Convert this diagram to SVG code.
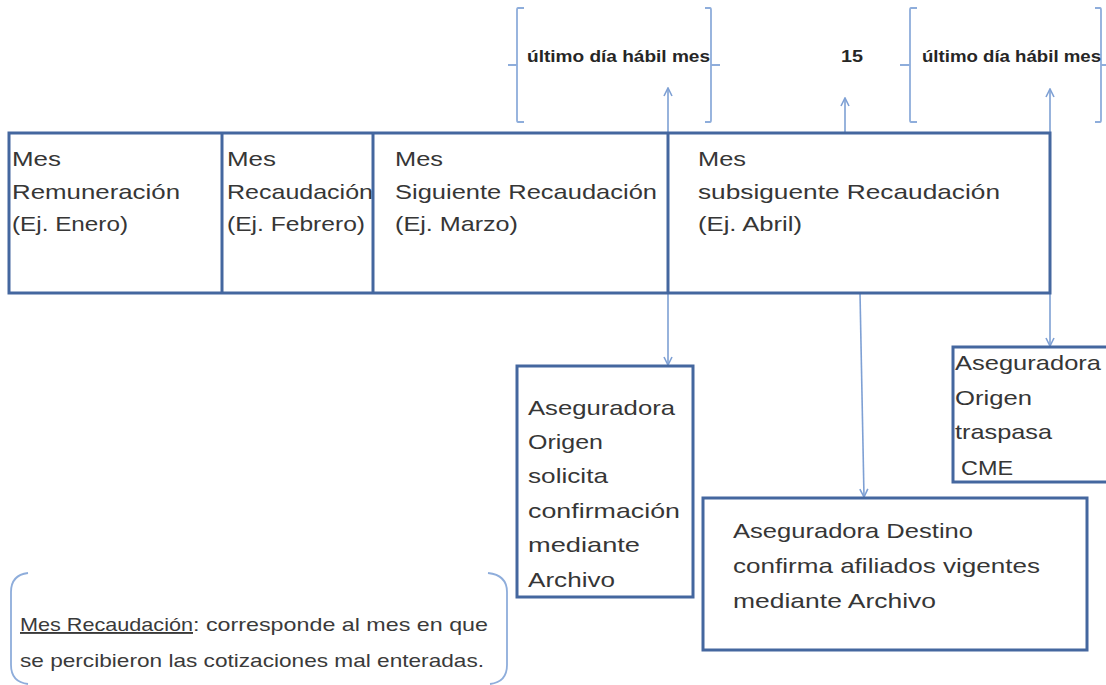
<svg xmlns="http://www.w3.org/2000/svg" width="1106" height="685" viewBox="0 0 1106 685">
<defs>
<style>
.box{fill:none;stroke:#44679f;stroke-width:3}
.conn{fill:none;stroke:#7ea0d4;stroke-width:1.6}
.br{fill:none;stroke:#8eaddb;stroke-width:1.8}
.t{font-family:"Liberation Sans",Arial,sans-serif;font-size:21px;fill:#363636}
.s{font-family:"Liberation Sans",Arial,sans-serif;font-size:19px;fill:#3a3a3a}
.b{font-family:"Liberation Sans",Arial,sans-serif;font-size:17px;font-weight:bold;fill:#262626}
</style>
<marker id="ah" viewBox="0 0 10 10" refX="9" refY="5" markerWidth="10" markerHeight="10" markerUnits="userSpaceOnUse" orient="auto">
<path d="M1,1 L9,5 L1,9" fill="none" stroke="#7ea0d4" stroke-width="1.6"/>
</marker>
</defs>
<rect width="1106" height="685" fill="#ffffff"/>

<g id="top-labels">
<g id="bracket1">
<path class="br" d="M524,8 L518,8 Q517,8 517,10 L517,120 Q517,122 518,122 L524,122 M508,65 L517,65"/>
<path class="br" d="M705,8 L710,8 Q711,8 711,10 L711,120 Q711,122 710,122 L705,122 M711,65 L720,65"/>
<text class="b" x="527" y="62" textLength="183" lengthAdjust="spacingAndGlyphs">último día hábil mes</text>
</g>
<g id="label15">
<text class="b" x="841" y="62" textLength="22" lengthAdjust="spacingAndGlyphs">15</text>
</g>
<g id="bracket2">
<path class="br" d="M917,8 L911,8 Q910,8 910,10 L910,120 Q910,122 911,122 L917,122 M900,65 L910,65"/>
<path class="br" d="M1095,8 L1100,8 Q1101,8 1101,10 L1101,120 Q1101,122 1100,122 L1095,122 M1101,65 L1110,65"/>
<text class="b" x="922" y="62" textLength="179" lengthAdjust="spacingAndGlyphs">último día hábil mes</text>
</g>
</g>

<g id="connectors">
<line class="conn" x1="668" y1="133" x2="668" y2="88" marker-end="url(#ah)"/>
<line class="conn" x1="845" y1="133" x2="845" y2="98" marker-end="url(#ah)"/>
<line class="conn" x1="1050" y1="133" x2="1050" y2="89" marker-end="url(#ah)"/>
<line class="conn" x1="668" y1="293" x2="668" y2="365" marker-end="url(#ah)"/>
<line class="conn" x1="860" y1="293" x2="864" y2="497" marker-end="url(#ah)"/>
<line class="conn" x1="1050" y1="293" x2="1050" y2="346" marker-end="url(#ah)"/>
</g>

<g id="timeline">
<rect class="box" x="9" y="133" width="1041" height="160"/>
<line class="box" x1="222" y1="133" x2="222" y2="293"/>
<line class="box" x1="373" y1="133" x2="373" y2="293"/>
<line class="box" x1="668" y1="133" x2="668" y2="293"/>
<g id="mes-remuneracion">
<text class="t" x="12" y="166" textLength="49" lengthAdjust="spacingAndGlyphs">Mes</text>
<text class="t" x="12" y="199" textLength="168" lengthAdjust="spacingAndGlyphs">Remuneración</text>
<text class="t" x="12" y="231" textLength="116" lengthAdjust="spacingAndGlyphs">(Ej. Enero)</text>
</g>
<g id="mes-recaudacion">
<text class="t" x="227" y="166" textLength="49" lengthAdjust="spacingAndGlyphs">Mes</text>
<text class="t" x="227" y="199" textLength="146" lengthAdjust="spacingAndGlyphs">Recaudación</text>
<text class="t" x="227" y="231" textLength="138" lengthAdjust="spacingAndGlyphs">(Ej. Febrero)</text>
</g>
<g id="mes-siguiente">
<text class="t" x="395" y="166" textLength="48" lengthAdjust="spacingAndGlyphs">Mes</text>
<text class="t" x="395" y="199" textLength="262" lengthAdjust="spacingAndGlyphs">Siguiente Recaudación</text>
<text class="t" x="395" y="231" textLength="123" lengthAdjust="spacingAndGlyphs">(Ej. Marzo)</text>
</g>
<g id="mes-subsiguiente">
<text class="t" x="698" y="166" textLength="48" lengthAdjust="spacingAndGlyphs">Mes</text>
<text class="t" x="698" y="199" textLength="302" lengthAdjust="spacingAndGlyphs">subsiguente Recaudación</text>
<text class="t" x="698" y="231" textLength="104" lengthAdjust="spacingAndGlyphs">(Ej. Abril)</text>
</g>
</g>

<g id="origen-solicita">
<rect class="box" x="517" y="366" width="176" height="231"/>
<text class="t" x="528" y="415" textLength="147" lengthAdjust="spacingAndGlyphs">Aseguradora</text>
<text class="t" x="528" y="449" textLength="75" lengthAdjust="spacingAndGlyphs">Origen</text>
<text class="t" x="528" y="483" textLength="80" lengthAdjust="spacingAndGlyphs">solicita</text>
<text class="t" x="528" y="518" textLength="152" lengthAdjust="spacingAndGlyphs">confirmación</text>
<text class="t" x="528" y="552" textLength="112" lengthAdjust="spacingAndGlyphs">mediante</text>
<text class="t" x="528" y="587" textLength="87" lengthAdjust="spacingAndGlyphs">Archivo</text>
</g>

<g id="origen-traspasa">
<rect class="box" x="953" y="347" width="160" height="135"/>
<text class="t" x="955" y="370" textLength="146" lengthAdjust="spacingAndGlyphs">Aseguradora</text>
<text class="t" x="955" y="405" textLength="77" lengthAdjust="spacingAndGlyphs">Origen</text>
<text class="t" x="955" y="439" textLength="97" lengthAdjust="spacingAndGlyphs">traspasa</text>
<text class="t" x="961" y="475" textLength="52" lengthAdjust="spacingAndGlyphs">CME</text>
</g>

<g id="destino-confirma">
<rect class="box" x="703" y="498" width="384" height="152"/>
<text class="t" x="733" y="538" textLength="240" lengthAdjust="spacingAndGlyphs">Aseguradora Destino</text>
<text class="t" x="733" y="573" textLength="307" lengthAdjust="spacingAndGlyphs">confirma afiliados vigentes</text>
<text class="t" x="733" y="608" textLength="203" lengthAdjust="spacingAndGlyphs">mediante Archivo</text>
</g>

<g id="legend">
<path class="br" d="M28,573 Q11,575 11,592 L11,665 Q11,682 28,684"/>
<path class="br" d="M488,573 Q507,575 507,592 L507,665 Q507,682 490,684"/>
<text class="s" x="20" y="631" textLength="173" lengthAdjust="spacingAndGlyphs" text-decoration="underline">Mes Recaudación</text>
<text class="s" x="193" y="631" textLength="295" lengthAdjust="spacingAndGlyphs">: corresponde al mes en que</text>
<text class="s" x="20" y="667" textLength="464" lengthAdjust="spacingAndGlyphs">se percibieron las cotizaciones mal enteradas.</text>
</g>
</svg>
